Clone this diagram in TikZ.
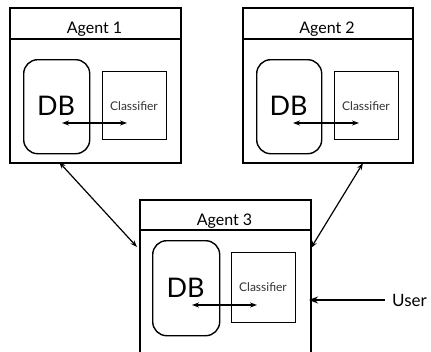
\documentclass[tikz,border=0pt]{standalone}
\usepackage{fontspec}
\setmainfont{Lato}
\usetikzlibrary{arrows.meta}
\tikzset{
  agentbox/.style={draw, line width=1.6pt, anchor=north west, inner sep=0pt},
  dbbox/.style={draw, line width=1.4pt, rounded corners=14pt, anchor=north west, inner sep=0pt},
  clsbox/.style={draw, line width=1.4pt, anchor=north west, inner sep=0pt},
  title/.style={anchor=base, font=\fontsize{16}{18}\selectfont},
  dbtext/.style={font=\fontsize{27}{29}\selectfont},
  clstext/.style={font=\fontsize{12}{14}\selectfont, text=black!80},
  link/.style={line width=1.2pt, {Stealth[length=7pt,width=5pt]}-{Stealth[length=7pt,width=5pt]}},
  inner/.style={line width=1.2pt, {Stealth[length=7pt,width=5pt]}-{Stealth[length=7pt,width=5pt]}},
  userarrow/.style={line width=2pt, -{Stealth[length=9pt,width=7pt]}}
}
\begin{document}
\begin{tikzpicture}[x=1pt,y=-1pt]
\useasboundingbox (0,0) rectangle (431,351);
\clip (0,0) rectangle (431,351);
\fill[white] (0,0) rectangle (431,351);
% Agent 1
\node[agentbox, minimum width=171pt, minimum height=155pt] (a1) at (9,7) {};
\draw[line width=1.6pt] (9,39) -- (180,39);
\node[title] (t1) at (94.5,33) {Agent 1};
\node[dbbox, minimum width=66pt, minimum height=94pt] (db1) at (23,59) {};
\node[dbtext] (dbt1) at (56,106) {DB};
\node[clsbox, minimum width=64pt, minimum height=68pt] (c1) at (102,71) {};
\node[clstext] (ct1) at (134,106) {Classifier};
\coordinate (p1) at (62,123);
\coordinate (q1) at (127,123);
\draw[inner] (p1) -- (q1);
% Agent 2
\node[agentbox, minimum width=170pt, minimum height=155pt] (a2) at (242,7) {};
\draw[line width=1.6pt] (242,39) -- (412,39);
\node[title] (t2) at (327,33) {Agent 2};
\node[dbbox, minimum width=65pt, minimum height=94pt] (db2) at (256,59) {};
\node[dbtext] (dbt2) at (288.5,106) {DB};
\node[clsbox, minimum width=64pt, minimum height=68pt] (c2) at (334,71) {};
\node[clstext] (ct2) at (366,106) {Classifier};
\coordinate (p2) at (293,123);
\coordinate (q2) at (359,123);
\draw[inner] (p2) -- (q2);
% Agent 3
\node[agentbox, minimum width=171pt, minimum height=170pt] (a3) at (139,199) {};
\draw[line width=1.6pt] (139,230) -- (310,230);
\node[title] (t3) at (224.5,225) {Agent 3};
\node[dbbox, minimum width=67pt, minimum height=95pt] (db3) at (152,240) {};
\node[dbtext] (dbt3) at (185.5,288) {DB};
\node[clsbox, minimum width=64pt, minimum height=70pt] (c3) at (231,252) {};
\node[clstext] (ct3) at (263,287) {Classifier};
\coordinate (p3) at (192,305);
\coordinate (q3) at (257,305);
\draw[inner] (p3) -- (q3);
% links between agents
\coordinate (l1a) at (59,162);
\coordinate (l1b) at (137,247);
\draw[link] (l1a) -- (l1b);
\coordinate (l2a) at (363,163);
\coordinate (l2b) at (311,248);
\draw[link] (l2a) -- (l2b);
% user
\node[anchor=west, font=\fontsize{17}{19}\selectfont, inner sep=0pt] (user) at (392,300) {User};
\coordinate (uend) at (309,300);
\draw[userarrow] ([xshift=-7pt]user.west) -- (uend);
\end{tikzpicture}
\end{document}
